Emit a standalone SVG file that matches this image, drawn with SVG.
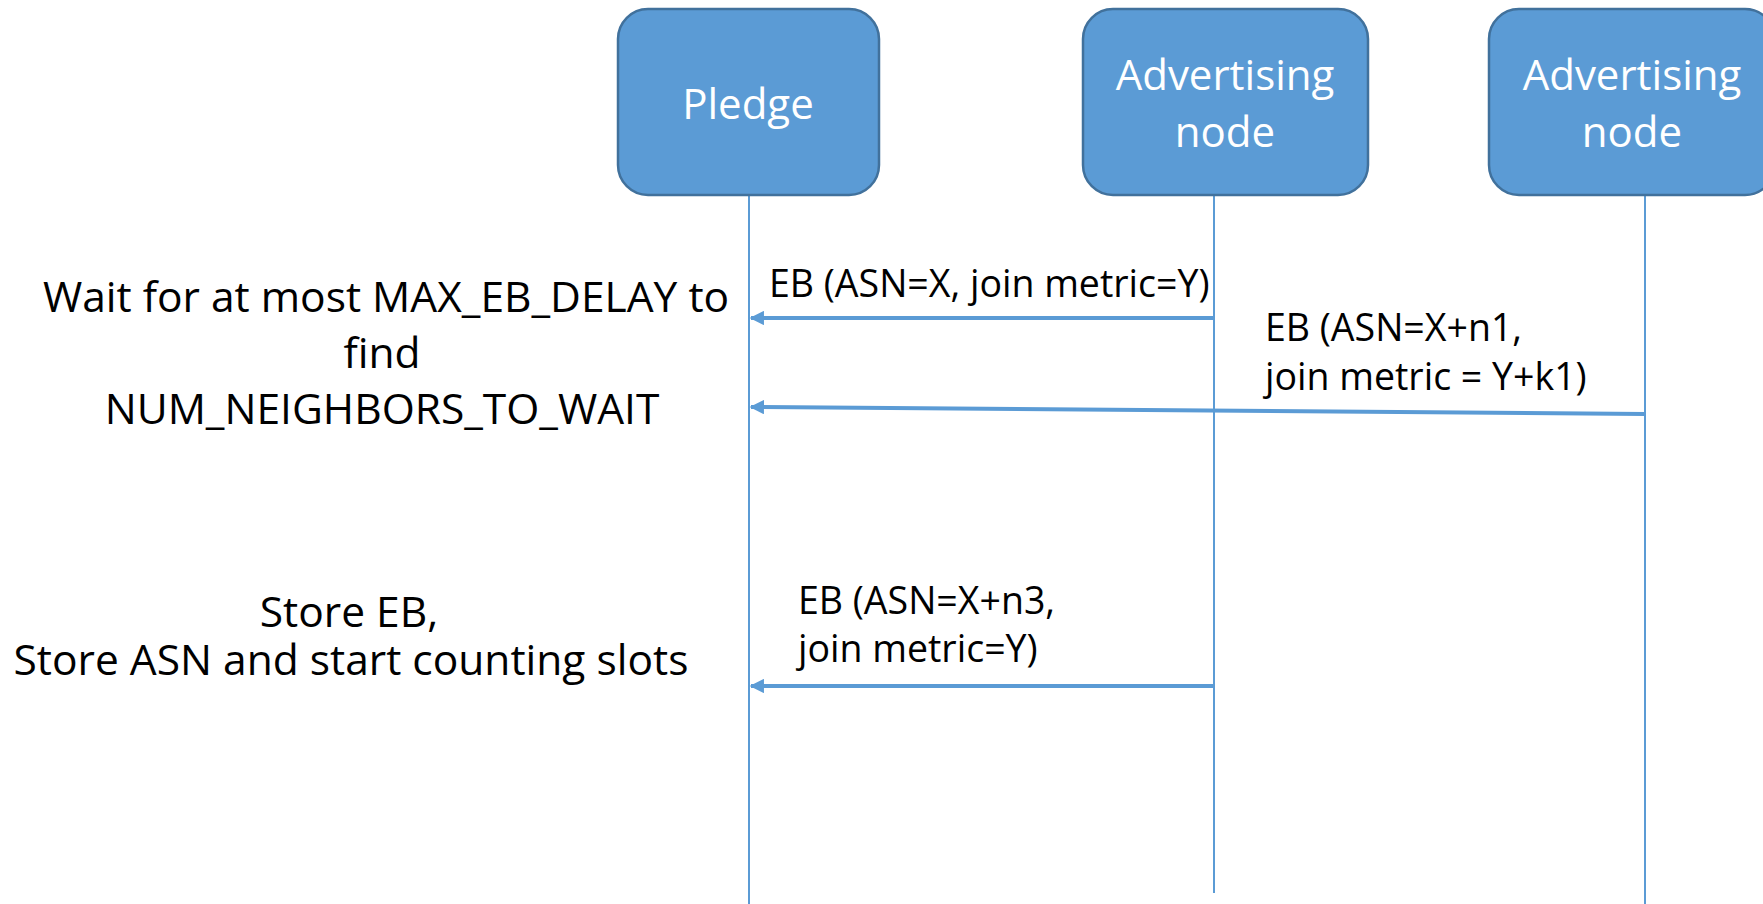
<svg xmlns="http://www.w3.org/2000/svg" width="1763" height="904" viewBox="0 0 1763 904">
  <defs>
    <style>
      .node rect { fill: #5B9BD5; stroke: #41719C; stroke-width: 2.5; }
      .node text { fill: #FFFFFF; font-family: "Open Sans", "Liberation Sans", sans-serif; font-size: 42px; text-anchor: middle; }
      .lifeline { stroke: #5B9BD5; stroke-width: 2; fill: none; }
      .msg { stroke: #5B9BD5; stroke-width: 4; fill: none; marker-end: url(#arrow); }
      .label { fill: #000000; font-family: "Open Sans", "Liberation Sans", sans-serif; font-size: 37.5px; }
      .note { fill: #000000; font-family: "Open Sans", "Liberation Sans", sans-serif; font-size: 42.5px; text-anchor: middle; }
    </style>
    <marker id="arrow" viewBox="0 0 10 10" refX="9" refY="5" markerWidth="4.2" markerHeight="3.6" orient="auto" markerUnits="strokeWidth">
      <path d="M0,0 L10,5 L0,10 z" fill="#5B9BD5"/>
    </marker>
  </defs>

  <rect width="1763" height="904" fill="#FFFFFF"/>

  <!-- lifelines -->
  <g id="lifelines">
    <line class="lifeline" x1="749" y1="195" x2="749" y2="904"/>
    <line class="lifeline" x1="1214" y1="195" x2="1214" y2="893"/>
    <line class="lifeline" x1="1645" y1="195" x2="1645" y2="904"/>
  </g>

  <!-- participants -->
  <g id="pledge" class="node">
    <rect x="618" y="9" width="261" height="186" rx="30" ry="30"/>
    <text x="748" y="119">Pledge</text>
  </g>
  <g id="advertising-node-1" class="node">
    <rect x="1083" y="9" width="285" height="186" rx="30" ry="30"/>
    <text x="1225" y="90">Advertising</text>
    <text x="1225" y="147">node</text>
  </g>
  <g id="advertising-node-2" class="node">
    <rect x="1489" y="9" width="286" height="186" rx="30" ry="30"/>
    <text x="1632" y="90">Advertising</text>
    <text x="1632" y="147">node</text>
  </g>

  <!-- messages -->
  <g id="connectors">
    <line class="msg" x1="1214" y1="318" x2="751" y2="318"/>
    <line class="msg" x1="1645" y1="414" x2="751" y2="407"/>
    <line class="msg" x1="1214" y1="686" x2="751" y2="686"/>
  </g>

  <!-- message labels -->
  <g id="message-labels">
    <text class="label" x="769" y="297">EB (ASN=X, join metric=Y)</text>
    <text class="label" x="1265" y="341">EB (ASN=X+n1,</text>
    <text class="label" x="1265" y="390">join metric = Y+k1)</text>
    <text class="label" x="798" y="614">EB (ASN=X+n3,</text>
    <text class="label" x="798" y="662">join metric=Y)</text>
  </g>

  <!-- pledge-side notes -->
  <g id="note-wait">
    <text class="note" x="386" y="312">Wait for at most MAX_EB_DELAY to</text>
    <text class="note" x="382" y="368">find</text>
    <text class="note" x="382" y="424">NUM_NEIGHBORS_TO_WAIT</text>
  </g>
  <g id="note-store">
    <text class="note" x="349" y="627">Store EB,</text>
    <text class="note" x="351" y="675">Store ASN and start counting slots</text>
  </g>
</svg>
